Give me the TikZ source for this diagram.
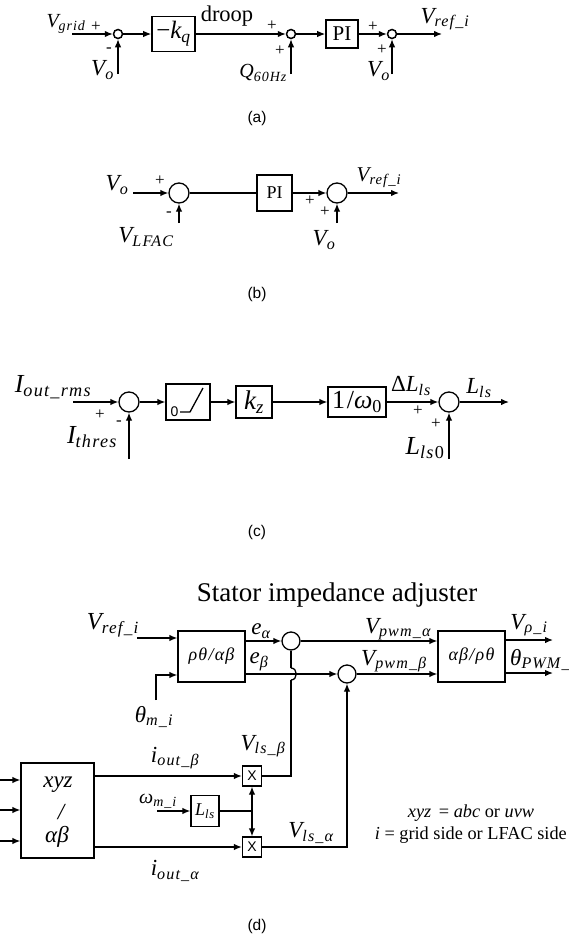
\documentclass[tikz,border=0pt]{standalone}
\usepackage{fix-cm}
\usepackage{amstext}
\usepackage{fontspec}
\usetikzlibrary{arrows.meta}
\setmainfont{Liberation Serif}
\setsansfont{Liberation Sans}
\newfontfamily\varfont[LetterSpace=7]{Liberation Serif}
\newcommand{\vlab}[2]{$\text{\varfont\itshape #1}_{\text{\varfont\itshape #2}}$}
\tikzset{
  sumnode/.style={circle,draw,line width=1.3pt,inner sep=0pt,minimum size=20pt},
  tinysum/.style={circle,draw,line width=1.5pt,inner sep=0pt,minimum size=9pt},
  blockbox/.style={rectangle,draw,line width=1.3pt,inner sep=0pt},
  sigline/.style={line width=1.3pt,-{Latex[length=8pt,width=6.5pt]}},
  plainline/.style={line width=1.3pt},
  hugelabel/.style={inner sep=0pt,font=\fontsize{26}{28}\selectfont},
  biglabel/.style={inner sep=0pt,font=\fontsize{23}{25}\selectfont},
  midlabel/.style={inner sep=0pt,font=\fontsize{20}{22}\selectfont},
  signlabel/.style={inner sep=0pt,font=\fontsize{17}{18}\selectfont},
  caplabel/.style={inner sep=0pt,font=\sffamily\fontsize{15.5}{18}\selectfont},
  notelabel/.style={inner sep=0pt,font=\fontsize{18.3}{20}\selectfont}
}
\begin{document}
\begin{tikzpicture}[x=1pt,y=-1pt]
\path[use as bounding box,clip] (0,0) rectangle (569,937);

\node[tinysum] (suma1) at (118,34) {};
\node[tinysum] (suma2) at (291,34) {};
\node[tinysum] (suma3) at (392,34) {};
\node[blockbox,line width=1.6pt,minimum width=43pt,minimum height=35pt,font=\fontsize{25}{27}\selectfont] (kq) at (173.5,34) {\vlab{\textup{−}k}{q}};
\node[blockbox,line width=1.6pt,minimum width=32pt,minimum height=28pt,font=\fontsize{21}{22}\selectfont] (pia) at (342,34) {PI};
\coordinate (vgridin) at (72,34);
\coordinate (voain) at (118,74);
\coordinate (qin) at (291,74);
\coordinate (voain2) at (392,74);
\coordinate (vrefa) at (442,34);
\draw[sigline] (vgridin) -- (suma1);
\draw[sigline] (voain) -- (suma1);
\draw[sigline] (suma1) -- (kq);
\draw[sigline] (kq) -- (suma2);
\draw[sigline] (qin) -- (suma2);
\draw[sigline] (suma2) -- (pia);
\draw[sigline] (pia) -- (suma3);
\draw[sigline] (voain2) -- (suma3);
\draw[sigline] (suma3) -- (vrefa);
\node[midlabel] (vgridlab) at (66,24) {\vlab{V}{grid}};
\node[signlabel] (pa1) at (96,27) {+};
\node[signlabel] (ma1) at (109,50) {-};
\node[biglabel,anchor=east] (voa1) at (114,70) {\vlab{V}{o}};
\node[font=\fontsize{22.5}{24}\selectfont,inner sep=0pt] (drooplab) at (227,16) {droop};
\node[signlabel] (pa2) at (272,26) {+};
\node[signlabel] (pa3) at (280,51) {+};
\node[midlabel,anchor=east] (qlab) at (287,73) {\vlab{Q}{60Hz}};
\node[signlabel] (pa4) at (373,27) {+};
\node[signlabel] (pa5) at (382,50) {+};
\node[biglabel,anchor=east] (voa2) at (390,71) {\vlab{V}{o}};
\node[biglabel] (vrefalab) at (445,19) {\vlab{V}{ref\_i}};
\node[caplabel] (capa) at (257,118) {(a)};

\node[sumnode] (sumb1) at (179,193) {};
\node[sumnode] (sumb2) at (337,193) {};
\node[blockbox,minimum width=35pt,minimum height=36pt,font=\fontsize{18}{20}\selectfont] (pib) at (274.5,193) {PI};
\coordinate (vobin) at (133,193);
\coordinate (lfacin) at (179,223);
\coordinate (vobin2) at (337,223);
\coordinate (vrefb) at (399,193);
\draw[sigline] (vobin) -- (sumb1);
\draw[sigline] (lfacin) -- (sumb1);
\draw[plainline] (sumb1) -- (pib);
\draw[sigline] (pib) -- (sumb2);
\draw[sigline] (vobin2) -- (sumb2);
\draw[sigline] (sumb2) -- (vrefb);
\node[biglabel] (vob1) at (117,185) {\vlab{V}{o}};
\node[signlabel] (pb1) at (160,181) {+};
\node[signlabel] (mb1) at (169,214) {-};
\node[biglabel] (lfaclab) at (146,237) {\vlab{V}{LFAC}};
\node[signlabel] (pb2) at (310,201) {+};
\node[signlabel] (pb3) at (325,212) {+};
\node[biglabel] (vob2) at (324,240) {\vlab{V}{o}};
\node[inner sep=0pt,font=\fontsize{21}{23}\selectfont] (vrefblab) at (379,178) {\vlab{V}{ref\_i}};
\node[caplabel] (capb) at (257,294) {(b)};

\node[sumnode] (sumc1) at (129,402) {};
\node[sumnode] (sumc2) at (449,402) {};
\node[blockbox,minimum width=44pt,minimum height=36pt] (dead) at (188,402) {};
\node[blockbox,minimum width=36pt,minimum height=32pt,font=\fontsize{27}{29}\selectfont] (kz) at (254,402) {\vlab{k}{z}};
\node[blockbox,minimum width=58pt,minimum height=30pt,font=\fontsize{26}{28}\selectfont] (omega) at (357,402) {\vlab{\textup{1/}ω}{\textup{0}}};
\coordinate (iin) at (73,402);
\coordinate (thresin) at (129,459);
\coordinate (ls0in) at (449,459);
\coordinate (lsout) at (509,402);
\draw[sigline] (iin) -- (sumc1);
\draw[sigline] (thresin) -- (sumc1);
\draw[sigline] (sumc1) -- (dead);
\draw[sigline] (dead) -- (kz);
\draw[sigline] (kz) -- (omega);
\draw[sigline] (omega) -- (sumc2);
\draw[sigline] (ls0in) -- (sumc2);
\draw[sigline] (sumc2) -- (lsout);
\draw[plainline] (180,412) -- (190,412) -- (203,388);
\node[inner sep=0pt,font=\sffamily\fontsize{14}{16}\selectfont] (zerolab) at (174.5,412) {0};
\node[hugelabel] (ioutlab) at (53,387) {\vlab{I}{out\_rms}};
\node[signlabel] (pc1) at (100,415) {+};
\node[signlabel] (mc1) at (119,423) {-};
\node[hugelabel] (threslab) at (92,437) {\vlab{I}{thres}};
\node[biglabel] (dllab) at (411,386) {\vlab{\textup{Δ}L}{ls}};
\node[signlabel] (pc2) at (418,411) {+};
\node[signlabel] (pc3) at (436,424) {+};
\node[hugelabel] (ls0lab) at (425,448) {\vlab{L}{ls\textup{0}}};
\node[biglabel] (lslab) at (479,388) {\vlab{L}{ls}};
\node[caplabel] (capc) at (257,532) {(c)};

\node[font=\fontsize{27}{30}\selectfont,inner sep=0pt] (titled) at (337,595) {Stator impedance adjuster};
\node[blockbox,minimum width=67pt,minimum height=51pt,font=\varfont\itshape\fontsize{18}{20}\selectfont] (parkf) at (211.5,656.5) {ρθ/αβ};
\node[blockbox,minimum width=67pt,minimum height=51pt,font=\varfont\itshape\fontsize{18}{20}\selectfont] (parkr) at (471.5,656.5) {αβ/ρθ};
\node[sumnode,minimum size=18pt] (suma) at (291,641) {};
\node[sumnode,minimum size=18pt] (sumb) at (347,674) {};
\node[blockbox,minimum width=73pt,minimum height=95pt] (xyzbox) at (57.5,810.5) {};
\node[blockbox,minimum width=19pt,minimum height=20pt,font=\sffamily\fontsize{14}{16}\selectfont] (mulb) at (252,776) {X};
\node[blockbox,minimum width=19pt,minimum height=20pt,font=\sffamily\fontsize{14}{16}\selectfont] (mula) at (252,847) {X};
\node[blockbox,minimum width=28pt,minimum height=31pt,font=\fontsize{18}{20}\selectfont] (lsbox) at (205,811) {\vlab{L}{ls}};
\coordinate (vrefin) at (137,638);
\coordinate (thetain) at (156,700);
\coordinate (thetacor) at (156,675);
\coordinate (outrho) at (553,640);
\coordinate (outtheta) at (553,673);
\coordinate (omin) at (157,811);
\coordinate (lsjoin) at (252,811);
\coordinate (cornb) at (291,776);
\coordinate (corna) at (347,847);
\coordinate (hopb) at (291,680);
\coordinate (hopt) at (291,668);
\draw[sigline] (vrefin) -- (parkf.west |- vrefin);
\draw[sigline] (thetain) -- (thetacor) -- (parkf.west |- thetacor);
\draw[sigline] (parkf.east |- suma) -- (suma);
\draw[sigline] (parkf.east |- sumb) -- (sumb);
\draw[sigline] (suma) -- (parkr.west |- suma);
\draw[sigline] (sumb) -- (parkr.west |- sumb);
\draw[sigline] (parkr.east |- outrho) -- (outrho);
\draw[sigline] (parkr.east |- outtheta) -- (outtheta);
\draw[plainline] (mulb) -- (cornb) -- (hopb);
\draw[plainline] (hopb) .. controls (298,680) and (298,668) .. (hopt);
\draw[plainline] (hopt) -- (suma);
\draw[sigline] (mula) -- (corna) -- (sumb);
\draw[sigline] (xyzbox.east |- mulb) -- (mulb);
\draw[sigline] (xyzbox.east |- mula) -- (mula);
\draw[sigline] (omin) -- (lsbox);
\draw[plainline] (lsbox) -- (lsjoin);
\draw[sigline] (lsjoin) -- (mulb);
\draw[sigline] (lsjoin) -- (mula);
\foreach \y/\n in {780/ina,810/inb,841/inc} {
  \coordinate (\n) at (0,\y);
  \draw[sigline] (\n) -- (xyzbox.west |- \n);
}
\node[inner sep=0pt,font=\fontsize{24.5}{26}\selectfont] (vrefdlab) at (113,625) {\vlab{V}{ref\_i}};
\node[biglabel] (thetamlab) at (154,717) {\vlab{θ}{m\_i}};
\node[biglabel] (ealab) at (261,631) {\vlab{e}{α}};
\node[biglabel] (eblab) at (259,662) {\vlab{e}{β}};
\node[biglabel] (vpwmalab) at (398,629) {\vlab{V}{pwm\_α}};
\node[biglabel] (vpwmblab) at (394,661) {\vlab{V}{pwm\_β}};
\node[biglabel] (vrholab) at (529,625) {\vlab{V}{ρ\_i}};
\node[biglabel,anchor=west] (thetaplab) at (510,660) {\vlab{θ}{PWM\_i}};
\node[biglabel] (xyzlab) at (58,785) {\textit{xyz}};
\node[biglabel] (slashlab) at (62,812) {\textit{/}};
\node[biglabel] (ablab) at (57,837) {\textit{αβ}};
\node[biglabel] (ioutblab) at (175,758) {\vlab{i}{out\_β}};
\node[biglabel] (ioutalab) at (175,871) {\vlab{i}{out\_α}};
\node[midlabel] (omlab) at (158,801) {\vlab{ω}{m\_i}};
\node[biglabel] (vlsblab) at (263,746) {\vlab{V}{ls\_β}};
\node[biglabel] (vlsalab) at (311,833) {\vlab{V}{ls\_α}};
\node[notelabel] (notea) at (471,813) {\textit{xyz} \,= \textit{abc} or \textit{uvw}};
\node[notelabel,anchor=east] (noteb) at (567,835) {\textit{i} = grid side or LFAC side};
\node[caplabel] (capd) at (257,926) {(d)};

\end{tikzpicture}
\end{document}
